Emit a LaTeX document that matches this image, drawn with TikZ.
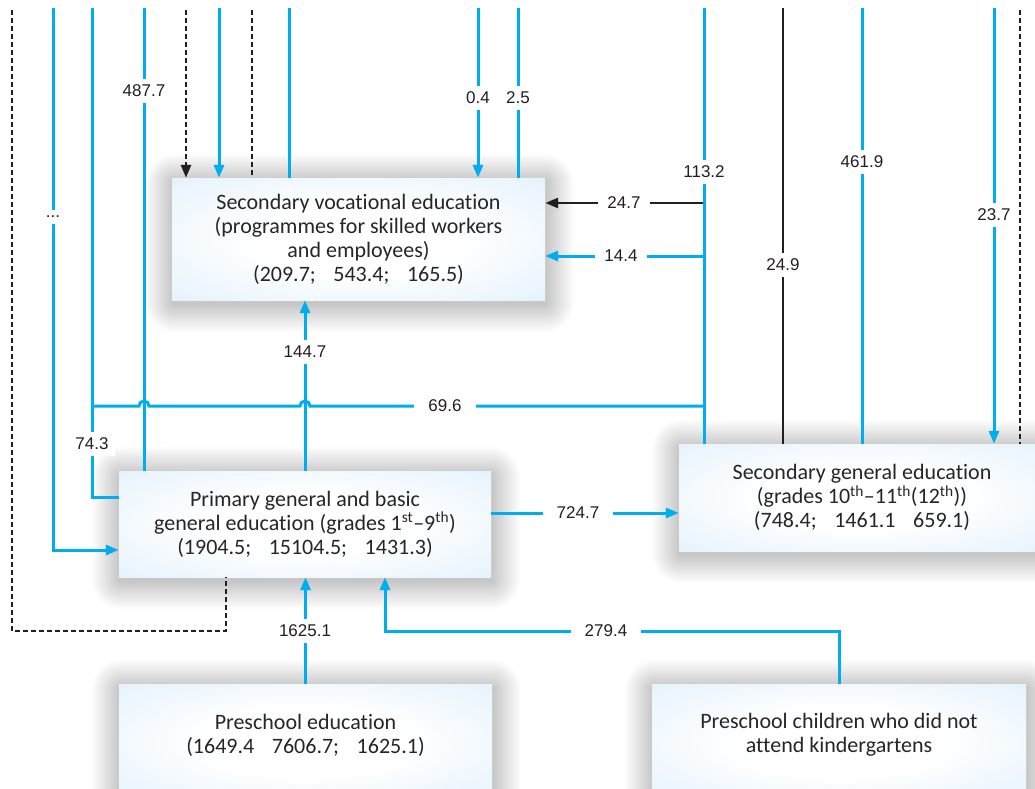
\documentclass[tikz,border=0pt]{standalone}
\usepackage{fontspec}
\setmainfont{Carlito}[Ligatures=NoCommon]
\newfontfamily\numfont{Liberation Sans}
\usetikzlibrary{arrows.meta}

\definecolor{flowblue}{RGB}{0,174,239}
\definecolor{ink}{RGB}{35,31,32}
\definecolor{boxblue}{RGB}{212,234,250}
\definecolor{boxtext}{RGB}{38,38,38}

% pale box fill: white core fading to light blue at the edges
\pgfdeclareradialshading{boxglow}{\pgfpoint{0bp}{0bp}}{%
  color(0bp)=(white); color(14bp)=(white); color(50bp)=(boxblue); color(100bp)=(boxblue)}

\pgfdeclarelayer{shadowlayer}
\pgfsetlayers{shadowlayer,main}

% soft drop shadow behind a box node
\newcommand{\softshadow}[1]{%
  \begin{pgfonlayer}{shadowlayer}
    \foreach \i in {1,...,28}{%
      \fill[black, opacity=0.0075, rounded corners={(\i+2)*1pt}]
        ([xshift={(1-\i)*1pt}, yshift={(-\i-4)*1pt}]#1.south west)
        rectangle ([xshift={(\i+1)*1pt}, yshift={(\i-4)*1pt}]#1.north east);
    }%
  \end{pgfonlayer}}

\newcommand{\numgap}{\hspace{0.8em}}

\begin{document}
\begin{tikzpicture}[x=1pt, y=-1pt,
  flow/.style={flowblue, line width=3pt},
  solidink/.style={ink, line width=2.6pt},
  dashink/.style={ink, line width=2.6pt, dash pattern=on 5pt off 3pt},
  tip/.style={-{Triangle[length=13pt,width=10pt]}},
  lab/.style={fill=white, text=ink, inner xsep=6pt, inner ysep=6pt,
    font=\numfont\fontsize{17}{18}\selectfont},
  hlab/.style={lab, inner xsep=9pt},
  wlab/.style={lab, inner xsep=14pt},
  box/.style={shading=boxglow, align=center, text=boxtext, inner sep=0pt,
    font=\fontsize{22}{24}\selectfont},
  boxtxt/.style={align=center, text=boxtext, inner sep=0pt,
    font=\fontsize{22}{24}\selectfont},
]
\useasboundingbox (0,0) rectangle (1035,788);
\begin{pgfonlayer}{shadowlayer}
  \fill[white] (0,0) rectangle (1035,788);
\end{pgfonlayer}

% ---- boxes ----
\node[box, minimum width=373pt, minimum height=122pt] (sve) at (358.5,239)
  {Secondary vocational education\\(programmes for skilled workers\\and employees)\\(209.7;\numgap 543.4;\numgap 165.5)};
\node[box, minimum width=372pt, minimum height=106pt] (prim) at (305,524)
  {Primary general and basic\\general education (grades 1\textsuperscript{st}–9\textsuperscript{th})\\(1904.5;\numgap 15104.5;\numgap 1431.3)};
\node[box, minimum width=366pt, minimum height=107pt] (sge) at (862,497.5)
  {Secondary general education\\(grades 10\textsuperscript{th}–11\textsuperscript{th}(12\textsuperscript{th}))\\(748.4;\numgap 1461.1\numgap 659.1)};
\node[box, minimum width=373pt, minimum height=116pt] (pre) at (305.5,742) {};
\node[boxtxt] (pretext) at (305.5,735) {Preschool education\\(1649.4\numgap 7606.7;\numgap 1625.1)};
\node[box, minimum width=374pt, minimum height=116pt] (kid) at (839,742) {};
\node[boxtxt] (kidtext) at (839,735) {Preschool children who did not\\attend kindergartens};

\softshadow{sve}
\softshadow{prim}
\softshadow{sge}
\softshadow{pre}
\softshadow{kid}

% ---- free ends at the top ----
\coordinate (t12) at (12,10);
\coordinate (t53) at (53,8);
\coordinate (t92) at (92,8);
\coordinate (t144) at (144,8);
\coordinate (t186) at (186,10);
\coordinate (t219) at (219,8);
\coordinate (t252) at (252,10);
\coordinate (t289) at (289,8);
\coordinate (t478) at (478,8);
\coordinate (t518) at (518,8);
\coordinate (t704) at (704,8);
\coordinate (t783) at (783,8);
\coordinate (t862) at (862,8);
\coordinate (t994) at (994,8);
\coordinate (t1020) at (1020,10);
\coordinate (dashturn) at (226,631);
\coordinate (kidturn) at (385,631);
\coordinate (j92) at (92,406);
\coordinate (j704) at (704,406);
\coordinate (b247) at (704,203);
\coordinate (b144) at (704,256);

% ---- flows into primary education ----
\draw[dashink] (t12) |- (dashturn) -- (dashturn |- prim.south);
\draw[flow, tip] (t53) |- (prim.west |- 0,550);
\draw[flow] (t92) |- (prim.west |- 0,497);
\draw[flow] (t144) -- (t144 |- prim.north);
\draw[flow] (j92) -- (139,406) arc[start angle=180, end angle=360, radius=5]
  -- (300,406) arc[start angle=180, end angle=360, radius=5] -- (j704);

% ---- flows into secondary vocational education ----
\draw[dashink, tip] (t186) -- (t186 |- sve.north);
\draw[flow, tip] (t219) -- (t219 |- sve.north);
\draw[dashink] (t252) -- (t252 |- sve.north);
\draw[flow] (t289) -- (t289 |- sve.north);
\draw[flow, tip] (t478) -- (t478 |- sve.north);
\draw[flow] (t518) -- (t518 |- sve.north);
\draw[solidink, tip] (b247) -- (sve.east |- b247);
\draw[flow, tip] (b144) -- (sve.east |- b144);
\draw[flow, tip] (prim.north) -- (prim.north |- sve.south);

% ---- flows into secondary general education ----
\draw[flow] (t704) -- (t704 |- sge.north);
\draw[solidink] (t783) -- (t783 |- sge.north);
\draw[flow] (t862) -- (t862 |- sge.north);
\draw[flow, tip] (t994) -- (t994 |- sge.north);
\draw[dashink] (t1020) -- (t1020 |- sge.north);
\draw[flow, tip] (prim.east |- 0,513) -- (sge.west |- 0,513);

% ---- flows from preschool ----
\draw[flow, tip] (pre.north) -- (pre.north |- prim.south);
\draw[flow, tip] (kid.north) |- (kidturn) -- (kidturn |- prim.south);

% ---- values ----
\node[lab] at (53,217) {...};
\node[lab] at (144,91) {487.7};
\node[lab] at (92,444) {74.3};
\node[wlab] at (445,406) {69.6};
\node[lab] at (305,352) {144.7};
\node[lab] at (478,98) {0.4};
\node[lab] at (518,98) {2.5};
\node[lab] at (704,172) {113.2};
\node[hlab] at (624,203) {24.7};
\node[hlab] at (621,256) {14.4};
\node[lab] at (783,265) {24.9};
\node[lab] at (862,162) {461.9};
\node[lab] at (994,215) {23.7};
\node[wlab] at (578,513) {724.7};
\node[lab] at (305,631) {1625.1};
\node[wlab] at (606,631) {279.4};
\end{tikzpicture}
\end{document}
